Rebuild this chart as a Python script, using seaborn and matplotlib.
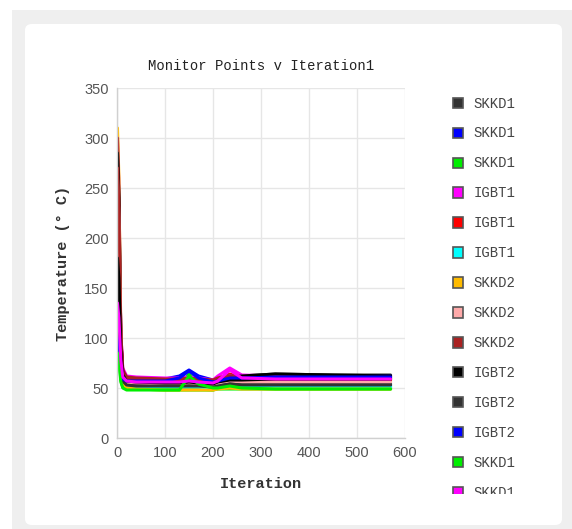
import numpy as np
import pandas as pd
import seaborn as sns
import matplotlib.pyplot as plt
from matplotlib.patches import Rectangle, FancyBboxPatch, Patch

# Iteration grid
iterations = [1, 4, 8, 12, 20, 40, 100, 130, 150, 170, 200, 210, 235, 260, 330, 450, 570]

s0 = [118, 105, 72, 62, 58, 57, 56, 56, 57, 56, 55, 56, 60, 62, 64, 63, 63]
s1 = [105, 95, 70, 62, 60, 60, 59, 62, 68, 62, 58, 58, 62, 62, 62, 62, 62]
s2 = [95, 85, 60, 53, 51, 50, 50, 52, 64, 55, 52, 52, 53, 51, 50, 50, 50]
s3 = [250, 215, 105, 70, 62, 61, 60, 60, 61, 60, 58, 62, 70, 63, 62, 61, 61]
s4 = [215, 190, 98, 66, 59, 58, 58, 58, 59, 58, 56, 59, 64, 60, 59, 59, 59]
s5 = [150, 140, 75, 56, 53, 53, 53, 53, 53, 53, 50, 56, 55, 54, 53, 53, 53]
s6 = [310, 260, 90, 58, 51, 50, 49, 49, 49, 49, 48, 50, 52, 50, 50, 50, 50]
s7 = [300, 255, 95, 63, 57, 56, 56, 56, 57, 56, 55, 57, 60, 58, 57, 57, 57]
s8 = [300, 250, 105, 68, 61, 60, 59, 59, 60, 59, 58, 60, 63, 61, 61, 61, 61]
s9 = [285, 240, 100, 66, 59, 58, 57, 57, 58, 57, 56, 58, 61, 62, 64, 63, 62]
s10 = [128, 112, 72, 58, 54, 53, 52, 52, 53, 52, 51, 53, 55, 54, 54, 54, 54]
s11 = [108, 96, 66, 54, 51, 51, 51, 51, 51, 51, 50, 52, 53, 52, 52, 52, 52]
s12 = [90, 80, 58, 51, 49, 49, 48, 48, 48, 48, 48, 49, 49, 49, 49, 49, 49]
s13 = [140, 125, 80, 62, 58, 57, 57, 57, 58, 57, 56, 58, 62, 60, 60, 60, 60]
s14 = [205, 180, 92, 64, 58, 57, 57, 57, 57, 57, 55, 57, 60, 58, 58, 58, 58]
s15 = [145, 130, 72, 54, 51, 51, 51, 51, 51, 51, 49, 53, 52, 51, 51, 51, 51]
s16 = [240, 205, 85, 56, 50, 49, 48, 48, 48, 48, 48, 49, 50, 49, 49, 49, 49]
s17 = [260, 220, 90, 61, 55, 55, 54, 54, 55, 54, 53, 55, 57, 56, 56, 56, 56]
s18 = [270, 230, 100, 66, 60, 59, 58, 58, 59, 58, 57, 59, 62, 60, 60, 60, 60]
s19 = [180, 160, 88, 63, 57, 56, 55, 55, 56, 55, 54, 56, 58, 58, 59, 59, 59]
s20 = [115, 102, 70, 57, 53, 52, 52, 52, 52, 52, 51, 52, 54, 53, 53, 53, 53]
s21 = [100, 92, 70, 59, 57, 57, 57, 60, 67, 60, 56, 57, 60, 60, 61, 61, 61]
s22 = [85, 76, 56, 50, 48, 48, 48, 48, 62, 54, 50, 50, 52, 50, 49, 49, 49]
s23 = [135, 120, 78, 61, 57, 56, 56, 56, 57, 56, 55, 57, 68, 60, 59, 59, 59]
series = [s0, s1, s2, s3, s4, s5, s6, s7, s8, s9, s10, s11,
          s12, s13, s14, s15, s16, s17, s18, s19, s20, s21, s22, s23]

labels = ['SKKD1', 'SKKD1', 'SKKD1', 'IGBT1', 'IGBT1', 'IGBT1',
          'SKKD2', 'SKKD2', 'SKKD2', 'IGBT2', 'IGBT2', 'IGBT2'] * 2
colors = ['#333333', '#0000ff', '#00ee00', '#ff00ff', '#ff0000',
          '#00ffff', '#ffbb00', '#ffaaaa', '#aa2222', '#000000']

sns.set_theme(style='whitegrid')
plt.rcParams['font.family'] = ['Liberation Mono', 'DejaVu Sans']

fig = plt.figure(figsize=(5.72, 5.29), dpi=100)
fig.patch.set_facecolor('white')
fig.patches.append(Rectangle((12 / 572, 0), 1, 519 / 529, transform=fig.transFigure,
                             facecolor='#efefef', edgecolor='none', zorder=-3))
fig.patches.append(FancyBboxPatch((25 / 572, 4 / 529), 537 / 572, 501 / 529,
                                  boxstyle='round,pad=0,rounding_size=0.012',
                                  transform=fig.transFigure, facecolor='white',
                                  edgecolor='none', zorder=-2))

ax = fig.add_axes([117 / 572, 91 / 529, 288 / 572, 350 / 529])
ax.set_facecolor('white')

handles = []
for i, vals in enumerate(series):
    c = colors[i % len(colors)]
    df = pd.DataFrame({'Iteration': iterations, 'Temp': vals})
    sns.lineplot(data=df, x='Iteration', y='Temp', color=c, linewidth=2.2, ax=ax)
    handles.append(Patch(facecolor=c, edgecolor='#555555', linewidth=1.2, label=labels[i]))

ax.set_xlim(0, 600)
ax.set_ylim(0, 350)
ax.set_xticks(range(0, 601, 100))
ax.set_yticks(range(0, 351, 50))
ax.grid(True, color='#e6e6e6', linewidth=1)
for s in ['top', 'right']:
    ax.spines[s].set_visible(False)
for s in ['left', 'bottom']:
    ax.spines[s].set_color('#d0d0d0')
    ax.spines[s].set_linewidth(1)
ax.tick_params(axis='both', length=4, width=1, color='#d0d0d0', pad=2,
               labelsize=10.5, labelcolor='#555555')
for lab in ax.get_xticklabels() + ax.get_yticklabels():
    lab.set_fontfamily('Liberation Sans')

ax.set_title('Monitor Points v Iteration1', fontsize=10, color='#222222', pad=13)
ax.set_xlabel('Iteration', fontsize=11, fontweight='bold', color='#333333', labelpad=12)
ax.set_ylabel('Temperature (° C)', fontsize=11, fontweight='bold', color='#333333', labelpad=10)

# only the entries that fit on the card are shown, the last one is cut
fig.legend(handles=handles[:14], loc='upper left', bbox_to_anchor=(440 / 572, 1 - 84 / 529),
           frameon=False, fontsize=10, labelspacing=1.15, handlelength=0.75,
           handleheight=0.75, handletextpad=0.75, labelcolor='#444444')

fig.patches.append(Rectangle((440 / 572, 8 / 529), 120 / 572, (529 - 494 - 8) / 529,
                             transform=fig.transFigure, facecolor='white',
                             edgecolor='none', zorder=10))

fig.savefig('out.png', dpi=100, facecolor='white')
